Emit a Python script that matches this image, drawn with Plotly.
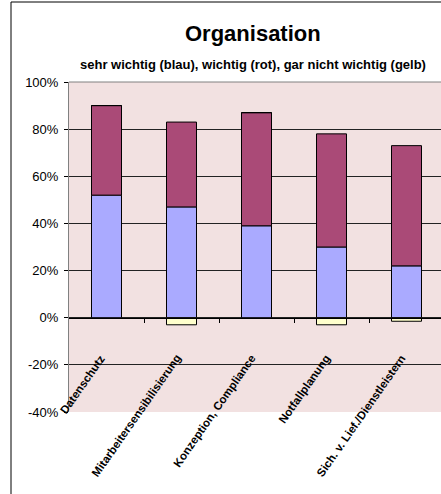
import plotly.graph_objects as go

categories = ["Datenschutz", "Mitarbeitersensibilisierung", "Konzeption, Compliance",
              "Notfallplanung", "Sich. v. Lief./Dienstleistern"]
sehr_wichtig = [52, 47, 39, 30, 22]
wichtig = [38, 36, 48, 48, 51]
gar_nicht_wichtig = [0, -3, 0, -3, -1.5]
y_ticks = [-40, -20, 0, 20, 40, 60, 80, 100]

W, H = 441, 494
L, T, B = 69, 82, 82
plot_w = W - L
plot_h = H - T - B

x = list(range(len(categories)))
line = dict(color="black", width=1)

fig = go.Figure()
fig.add_trace(go.Bar(x=x, y=sehr_wichtig, marker=dict(color="#AAAAFF", line=line), width=0.4, name="sehr wichtig"))
fig.add_trace(go.Bar(x=x, y=wichtig, marker=dict(color="#AA4A77", line=line), width=0.4, name="wichtig"))
fig.add_trace(go.Bar(x=x, y=gar_nicht_wichtig, marker=dict(color="#FFFFCC", line=line), width=0.4, name="gar nicht wichtig"))

fig.update_layout(
    width=W, height=H,
    margin=dict(l=L, r=0, t=T, b=B, pad=0),
    barmode="relative",
    showlegend=False,
    paper_bgcolor="white",
    plot_bgcolor="#F2E1E1",
    font=dict(family="Liberation Sans, Arial, sans-serif", color="black", size=13),
)
x_max = -0.5 + plot_w / 75.0
zero_pos = 40 / 140
fig.update_xaxes(range=[-0.5, x_max], showgrid=False, zeroline=False,
                 anchor="free", position=zero_pos,
                 showline=True, linecolor="black", linewidth=1,
                 ticks="outside", ticklen=4, tickcolor="black",
                 tickvals=[0.5, 1.5, 2.5, 3.5], showticklabels=False)
fig.update_yaxes(range=[-40, 100], tickvals=y_ticks, ticktext=[f"{v}%" for v in y_ticks],
                 showgrid=True, gridcolor="#222222", gridwidth=1, zeroline=False,
                 showline=True, linecolor="#808080", linewidth=1,
                 ticks="outside", ticklen=4, tickcolor="black", ticklabelstandoff=3,
                 tickfont=dict(size=13, color="black"))

# top border of plot area
fig.add_shape(type="line", xref="paper", yref="paper", x0=0, x1=1, y0=1, y1=1,
              line=dict(color="#808080", width=1))
# outer chart border
fig.add_shape(type="rect", xref="paper", yref="paper",
              x0=(11 - L) / plot_w, x1=1.05, y0=-0.3, y1=(H - B - 2) / plot_h,
              line=dict(color="black", width=1), fillcolor="rgba(0,0,0,0)", layer="above")

cx = (253 - L) / plot_w
fig.add_annotation(text="<b>Organisation</b>", xref="paper", yref="paper", x=cx, y=(H - B - 33) / plot_h,
                   showarrow=False, font=dict(size=22), xanchor="center", yanchor="middle")
fig.add_annotation(text="<b>sehr wichtig (blau), wichtig (rot), gar nicht wichtig (gelb)</b>",
                   xref="paper", yref="paper", x=cx, y=(H - B - 64) / plot_h,
                   showarrow=False, font=dict(size=13), xanchor="center", yanchor="middle")

for i, c in enumerate(categories):
    fig.add_annotation(text=f"<b>{c}</b>", x=i + 0.05, y=-13.5, xref="x", yref="y",
                       showarrow=False, textangle=-55, xanchor="right", yanchor="top",
                       font=dict(size=11.5))

fig.write_html("out.html", config={"displayModeBar": False},
               post_script="document.body.style.margin='0';document.body.style.overflow='hidden';")
